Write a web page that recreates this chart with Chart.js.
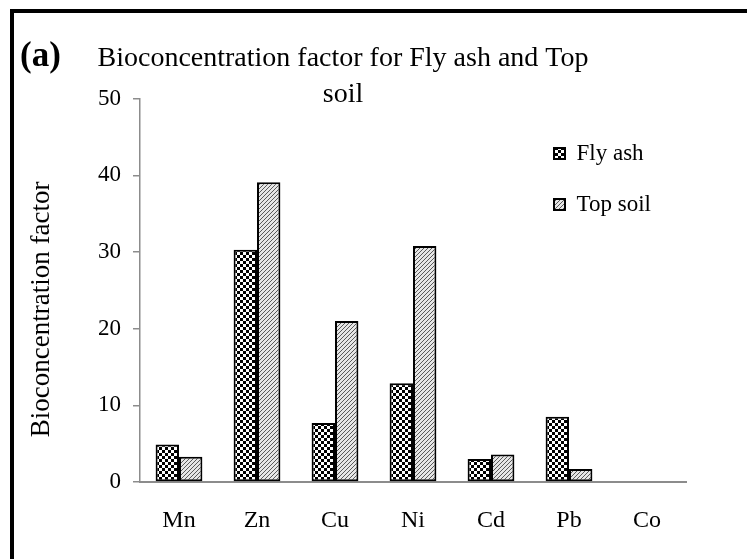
<!DOCTYPE html>
<html>
<head>
<meta charset="utf-8">
<script src="https://cdn.jsdelivr.net/npm/chart.js@4/dist/chart.umd.min.js"></script>
<style>
  html, body { margin: 0; padding: 0; background: #fff; }
  #wrap { position: relative; width: 747px; height: 559px; overflow: hidden; }
  #frame { position: absolute; left: 10px; top: 9px; right: -10px; bottom: -10px;
           border-left: 4px solid #000; border-top: 4px solid #000; pointer-events: none; }
  #tag { position: absolute; left: 20px; top: 37px; font-family: "Liberation Serif", serif;
         font-weight: bold; font-size: 35px; color: #000; line-height: 1; }
  canvas { position: absolute; left: 0; top: 0; }
</style>
</head>
<body>
<div id="wrap">
  <canvas id="c" width="747" height="559"></canvas>
  <div id="frame"></div>
  <div id="tag">(a)</div>
</div>
<script>
const categories = ["Mn", "Zn", "Cu", "Ni", "Cd", "Pb", "Co"];
const flyAsh = [4.9, 30.3, 7.7, 12.9, 3.0, 8.5, 0];
const topSoil = [3.3, 39.1, 21.0, 30.8, 3.6, 1.7, 0];
const seriesNames = ["Fly ash", "Top soil"];
const titleLines = ["Bioconcentration factor for Fly ash and Top", "soil"];
const yAxisTitle = "Bioconcentration factor";
const yTicks = [0, 10, 20, 30, 40, 50];

function checkerPattern() {
  const t = document.createElement('canvas'); t.width = 6; t.height = 6;
  const g = t.getContext('2d');
  g.fillStyle = '#fff'; g.fillRect(0, 0, 6, 6);
  g.fillStyle = '#000'; g.fillRect(0, 0, 3, 3); g.fillRect(3, 3, 3, 3);
  return g.createPattern(t, 'repeat');
}
function hatchPattern() {
  const t = document.createElement('canvas'); t.width = 4; t.height = 4;
  const g = t.getContext('2d');
  g.fillStyle = '#e6e6e6'; g.fillRect(0, 0, 4, 4);
  g.fillStyle = '#5a5a5a';
  g.fillRect(3, 0, 1, 1); g.fillRect(2, 1, 1, 1); g.fillRect(1, 2, 1, 1); g.fillRect(0, 3, 1, 1);
  return g.createPattern(t, 'repeat');
}

const serif = "'Liberation Serif', 'Times New Roman', serif";

const layoutTweaks = {
  id: 'layoutTweaks',
  afterLayout(chart) {
    const lg = chart.legend;
    if (lg) {
      const w = lg.width, h = lg.height;
      lg.left = 526; lg.top = 114; lg.right = lg.left + w; lg.bottom = lg.top + h;
    }
    const ys = chart.scales.y;
    if (ys && !ys._titleShifted) {
      const orig = ys.drawTitle.bind(ys);
      ys.drawTitle = function () {
        const t = this.top, b = this.bottom;
        this.top = t + 19; this.bottom = b + 19;
        orig();
        this.top = t; this.bottom = b;
      };
      ys._titleShifted = true;
    }
  }
};

new Chart(document.getElementById('c'), {
  type: 'bar',
  data: {
    labels: categories,
    datasets: [
      { label: seriesNames[0], data: flyAsh, backgroundColor: checkerPattern(),
        borderColor: '#000', borderWidth: 2, borderSkipped: false },
      { label: seriesNames[1], data: topSoil, backgroundColor: hatchPattern(),
        borderColor: '#000', borderWidth: 2, borderSkipped: false }
    ]
  },
  options: {
    responsive: false,
    devicePixelRatio: 1,
    animation: false,
    layout: { padding: { left: 0, right: 61, top: 0, bottom: 0 } },
    datasets: { bar: { categoryPercentage: 0.6, barPercentage: 1.0 } },
    plugins: {
      title: {
        display: true,
        text: titleLines,
        color: '#000',
        font: { family: serif, size: 28, weight: 'normal', lineHeight: 1.3 },
        padding: { top: 40, bottom: -14 }
      },
      legend: {
        display: true,
        position: 'chartArea',
        align: 'start',
        labels: {
          color: '#000',
          boxWidth: 11, boxHeight: 11,
          padding: 28,
          font: { family: serif, size: 23 }
        }
      },
      tooltip: { enabled: false }
    },
    scales: {
      x: {
        grid: { display: false, drawTicks: false },
        border: { display: true, color: '#8c8c8c', width: 2 },
        ticks: { color: '#000', padding: 24, font: { family: serif, size: 24 } },
        afterFit(s) { s.height = 77; }
      },
      y: {
        min: 0, max: 50,
        afterBuildTicks(s) { s.ticks = yTicks.map(v => ({ value: v })); },
        grid: { display: true, drawOnChartArea: false, drawTicks: true, tickLength: 7, color: '#8c8c8c', lineWidth: 1.5 },
        border: { display: true, color: '#8c8c8c', width: 1.5 },
        ticks: { color: '#000', padding: 12, font: { family: serif, size: 23 } },
        title: {
          display: true, text: yAxisTitle, color: '#000',
          font: { family: serif, size: 27, lineHeight: 1.2 },
          padding: { top: 26, bottom: 10 }
        },
        afterFit(s) { s.width = 140; }
      }
    }
  },
  plugins: [layoutTweaks]
});
</script>
</body>
</html>
